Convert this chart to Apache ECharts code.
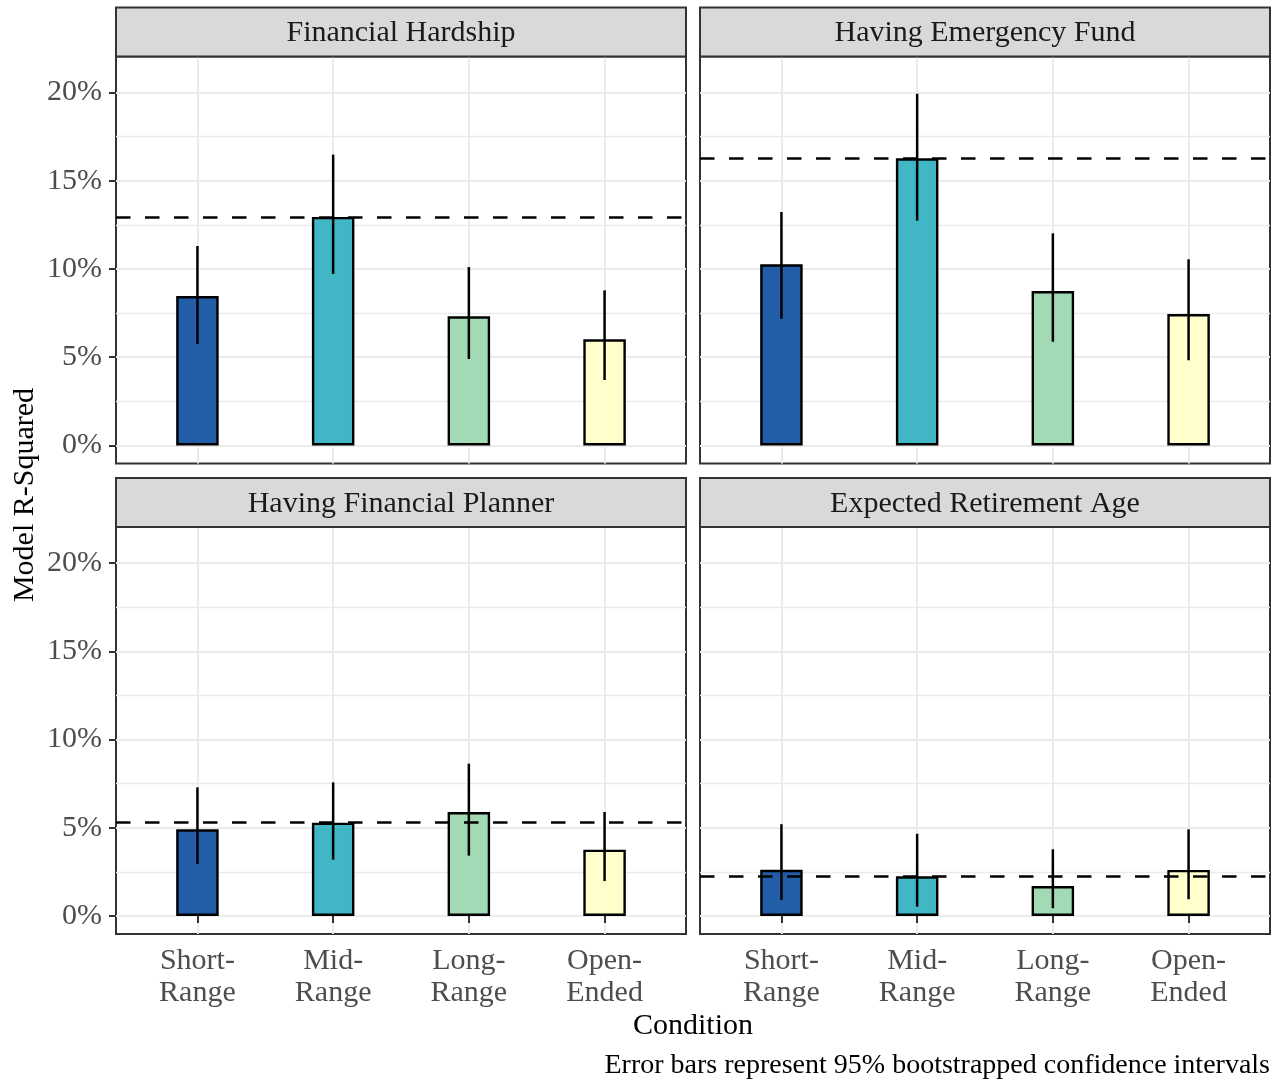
<!DOCTYPE html>
<html>
<head>
<meta charset="utf-8">
<script src="https://cdn.jsdelivr.net/npm/echarts@6/dist/echarts.min.js"></script>
<style>
  html, body { margin: 0; padding: 0; background: #fff; }
  #chart { width: 1280px; height: 1082px; }
</style>
</head>
<body>
<div id="chart"></div>
<script>
// Conditions on the x axis of every facet
const conditions = ['Short-Range', 'Mid-Range', 'Long-Range', 'Open-Ended'];
const conditionLabels = ['Short-\nRange', 'Mid-\nRange', 'Long-\nRange', 'Open-\nEnded'];
const conditionColors = ['#225EA8', '#41B6C4', '#A1DAB4', '#FFFFCC'];

// Facets (outcomes)
const outcomes = ['Financial Hardship', 'Having Emergency Fund', 'Having Financial Planner', 'Expected Retirement Age'];

// Model R-squared (%) per condition, one array per outcome
const rsqHardship   = [8.47, 12.95, 7.32, 6.02];
const rsqEmergency  = [10.27, 16.27, 8.75, 7.45];
const rsqPlanner    = [4.91, 5.29, 5.89, 3.76];
const rsqRetirement = [2.62, 2.25, 1.70, 2.61];

// 95% bootstrapped confidence interval bounds (%)
const lowHardship   = [5.75, 9.72, 4.90, 3.71];
const highHardship  = [11.30, 16.48, 10.11, 8.79];
const lowEmergency  = [7.18, 12.74, 5.88, 4.83];
const highEmergency = [13.23, 19.93, 12.02, 10.55];
const lowPlanner    = [2.95, 3.19, 3.42, 1.98];
const highPlanner   = [7.29, 7.57, 8.63, 5.89];
const lowRetirement  = [0.91, 0.53, 0.44, 0.95];
const highRetirement = [5.20, 4.66, 3.78, 4.91];

// Reference level (dashed line) per outcome
const referenceRsq = [12.95, 16.27, 5.29, 2.25];

// Axis ticks
const yMajorTicks = [0, 5, 10, 15, 20];
const yMinorTicks = [2.5, 7.5, 12.5, 17.5];
const xTicks = [1, 2, 3, 4];

const rsqByOutcome  = [rsqHardship, rsqEmergency, rsqPlanner, rsqRetirement];
const lowByOutcome  = [lowHardship, lowEmergency, lowPlanner, lowRetirement];
const highByOutcome = [highHardship, highEmergency, highPlanner, highRetirement];

// Facet layout
const FONT = '"Liberation Serif", "DejaVu Serif", serif';
const panelLefts = [116, 700];
const panelTops = [56.5, 527];
const panelW = 570, panelH = 407, stripH = 49;
const Y_MIN = -1.02, Y_MAX = 22.04;

const grids = [], xAxes = [], yAxes = [], minorYAxes = [], series = [], graphics = [];

outcomes.forEach((name, i) => {
  const col = i % 2, row = Math.floor(i / 2);
  const left = panelLefts[col], top = panelTops[row];
  const bottomRow = row === 1, leftCol = col === 0;

  grids.push({
    left: left, top: top, width: panelW, height: panelH,
    show: true, backgroundColor: '#fff', borderColor: '#333333', borderWidth: 2
  });

  xAxes.push({
    gridIndex: i, type: 'value', min: 0.4, max: 4.6,
    axisLine: { show: false },
    axisTick: { show: bottomRow, customValues: xTicks, length: 7, lineStyle: { color: '#333333', width: 2 } },
    axisLabel: {
      show: bottomRow, customValues: xTicks,
      formatter: v => conditionLabels[Math.round(v) - 1],
      fontFamily: FONT, fontSize: 30, color: '#4D4D4D', lineHeight: 32, margin: 11
    },
    splitLine: { show: true, lineStyle: { color: '#EBEBEB', width: 2 } }
  });

  yAxes.push({
    gridIndex: i, type: 'value', min: Y_MIN, max: Y_MAX,
    axisLine: { show: false },
    axisTick: { show: leftCol, customValues: yMajorTicks, length: 7, lineStyle: { color: '#333333', width: 2 } },
    axisLabel: {
      show: leftCol, customValues: yMajorTicks,
      formatter: v => v + '%',
      fontFamily: FONT, fontSize: 30, color: '#4D4D4D', margin: 14
    },
    splitLine: { show: true, lineStyle: { color: '#EBEBEB', width: 2 } }
  });

  minorYAxes.push({
    gridIndex: i, type: 'value', min: Y_MIN, max: Y_MAX, position: 'left',
    axisLine: { show: false },
    axisTick: { show: false, customValues: yMinorTicks },
    axisLabel: { show: false, customValues: yMinorTicks },
    splitLine: { show: true, lineStyle: { color: '#EBEBEB', width: 1.4 } }
  });

  const vals = rsqByOutcome[i];
  series.push({
    type: 'bar', xAxisIndex: i, yAxisIndex: i, barWidth: 42.5, z: 2,
    data: vals.map((v, j) => ({ value: [j + 1, v], itemStyle: { color: conditionColors[j] } })),
    itemStyle: { borderColor: '#000', borderWidth: 2.4 },
    markLine: {
      silent: true, symbol: 'none', z: 3,
      label: { show: false },
      lineStyle: { color: '#000', type: [14.5, 14.5], width: 2.5 },
      data: [{ yAxis: referenceRsq[i] }]
    }
  });

  const lo = lowByOutcome[i], hi = highByOutcome[i];
  series.push({
    type: 'custom', xAxisIndex: i, yAxisIndex: i, z: 6,
    data: lo.map((l, j) => [j + 1, l, hi[j]]),
    encode: { x: 0, y: [1, 2] },
    renderItem: (params, api) => {
      const p1 = api.coord([api.value(0), api.value(1)]);
      const p2 = api.coord([api.value(0), api.value(2)]);
      return {
        type: 'line',
        shape: { x1: p1[0], y1: p1[1], x2: p2[0], y2: p2[1] },
        style: { stroke: '#000', lineWidth: 2.5 }
      };
    }
  });

  // facet strip
  graphics.push({
    type: 'rect',
    shape: { x: left, y: top - stripH, width: panelW, height: stripH },
    style: { fill: '#D9D9D9', stroke: '#333333', lineWidth: 2 },
    z: 10
  });
  graphics.push({
    type: 'text', x: left + panelW / 2, y: top - stripH / 2 + 1.5,
    style: { text: name, font: '30px ' + FONT, fill: '#1A1A1A', textAlign: 'center', textVerticalAlign: 'middle' },
    z: 11
  });
});

// axis titles and caption
graphics.push({
  type: 'text', x: 693, y: 1026,
  style: { text: 'Condition', font: '30px ' + FONT, fill: '#000', textAlign: 'center', textVerticalAlign: 'middle' }
});
graphics.push({
  type: 'text', x: 25, y: 495, rotation: Math.PI / 2,
  style: { text: 'Model R-Squared', font: '30px ' + FONT, fill: '#000', textAlign: 'center', textVerticalAlign: 'middle' }
});
graphics.push({
  type: 'text', x: 1270, y: 1066,
  style: { text: 'Error bars represent 95% bootstrapped confidence intervals', font: '28px ' + FONT, fill: '#000', textAlign: 'right', textVerticalAlign: 'middle' }
});

const chart = echarts.init(document.getElementById('chart'), null, { renderer: 'canvas' });
chart.setOption({
  animation: false,
  backgroundColor: '#fff',
  grid: grids,
  xAxis: xAxes,
  yAxis: yAxes.concat(minorYAxes),
  series: series,
  graphic: graphics
});
</script>
</body>
</html>
